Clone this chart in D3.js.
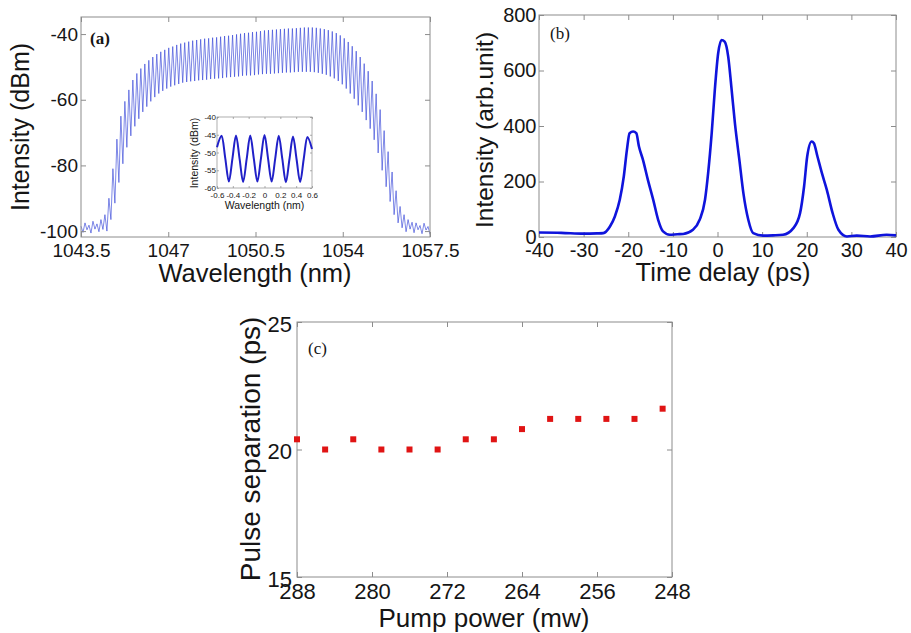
<!DOCTYPE html>
<html>
<head>
<meta charset="utf-8">
<script src="https://cdnjs.cloudflare.com/ajax/libs/d3/7.8.5/d3.min.js"></script>
<style>
    body { margin: 0; background: #fff; }
    svg text { font-family: "Liberation Sans", Arial, sans-serif; }
</style>
</head>
<body>
<div id="my_dataviz"></div>
<script>

// --------------------------------------------------------
// (1) Data
// --------------------------------------------------------

// (a) spectrum: fringe peaks ...
var peakNm = [
    1043.50, 1043.66, 1043.82, 1043.98, 1044.14, 1044.30, 1044.46, 1044.62, 1044.78, 1044.94,
    1045.10, 1045.26, 1045.42, 1045.58, 1045.74, 1045.90, 1046.06, 1046.22, 1046.38, 1046.54,
    1046.70, 1046.86, 1047.02, 1047.18, 1047.34, 1047.50, 1047.66, 1047.82, 1047.98, 1048.14,
    1048.30, 1048.46, 1048.62, 1048.78, 1048.94, 1049.10, 1049.26, 1049.42, 1049.58, 1049.74,
    1049.90, 1050.06, 1050.22, 1050.38, 1050.54, 1050.70, 1050.86, 1051.02, 1051.18, 1051.34,
    1051.50, 1051.66, 1051.82, 1051.98, 1052.14, 1052.30, 1052.46, 1052.62, 1052.78, 1052.94,
    1053.10, 1053.26, 1053.42, 1053.58, 1053.74, 1053.90, 1054.06, 1054.22, 1054.38, 1054.54,
    1054.70, 1054.86, 1055.02, 1055.18, 1055.34, 1055.50, 1055.66, 1055.82, 1055.98, 1056.14,
    1056.30, 1056.46, 1056.62, 1056.78, 1056.94, 1057.10, 1057.26, 1057.42
]
var peakDbm = [
    -98.5, -97.5, -98.2, -97, -97.8, -96.5, -95, -90, -81, -72,
    -65, -60.5, -57, -54, -52, -50.5, -49.1, -48, -47, -46.1,
    -45.4, -44.8, -44.2, -43.8, -43.3, -42.9, -42.6, -42.3, -42, -41.8,
    -41.6, -41.4, -41.3, -41.1, -41, -40.8, -40.6, -40.5, -40.3, -40.1,
    -39.9, -39.7, -39.6, -39.4, -39.3, -39.1, -38.9, -38.8, -38.7, -38.6,
    -38.5, -38.4, -38.3, -38.3, -38.2, -38.1, -38, -38, -38, -38.1,
    -38.3, -38.5, -38.8, -39.2, -39.7, -40.4, -41.3, -42.4, -43.7, -45.2,
    -47, -49, -51.3, -54.3, -58.2, -63, -69.4, -75.8, -82, -87.7,
    -92.5, -95, -96.5, -97.3, -97.5, -98.3, -97.6, -98.6
]

// ... and dips in between
var dipNm = [
    1043.58, 1043.74, 1043.90, 1044.06, 1044.22, 1044.38, 1044.54, 1044.70, 1044.86, 1045.02,
    1045.18, 1045.34, 1045.50, 1045.66, 1045.82, 1045.98, 1046.14, 1046.30, 1046.46, 1046.62,
    1046.78, 1046.94, 1047.10, 1047.26, 1047.42, 1047.58, 1047.74, 1047.90, 1048.06, 1048.22,
    1048.38, 1048.54, 1048.70, 1048.86, 1049.02, 1049.18, 1049.34, 1049.50, 1049.66, 1049.82,
    1049.98, 1050.14, 1050.30, 1050.46, 1050.62, 1050.78, 1050.94, 1051.10, 1051.26, 1051.42,
    1051.58, 1051.74, 1051.90, 1052.06, 1052.22, 1052.38, 1052.54, 1052.70, 1052.86, 1053.02,
    1053.18, 1053.34, 1053.50, 1053.66, 1053.82, 1053.98, 1054.14, 1054.30, 1054.46, 1054.62,
    1054.78, 1054.94, 1055.10, 1055.26, 1055.42, 1055.58, 1055.74, 1055.90, 1056.06, 1056.22,
    1056.38, 1056.54, 1056.70, 1056.86, 1057.02, 1057.18, 1057.34, 1057.50
]
var dipDbm = [
    -100.4, -99.6, -100.6, -99.4, -100.2, -99.5, -100, -96.5, -91.5, -85.2,
    -79.5, -74.5, -71, -68.1, -65.8, -63.7, -62.1, -60.5, -59.2, -58.1,
    -57.3, -56.6, -56, -55.6, -55.2, -54.8, -54.6, -54.4, -54.3, -54.1,
    -54, -53.9, -53.7, -53.6, -53.5, -53.4, -53.2, -53.1, -53, -52.9,
    -52.7, -52.6, -52.6, -52.5, -52.3, -52.2, -52.1, -52.1, -52, -51.9,
    -51.8, -51.7, -51.7, -51.6, -51.5, -51.5, -51.5, -51.5, -51.6, -51.8,
    -52.1, -52.4, -52.9, -53.5, -54.3, -55.3, -56.6, -58.1, -59.7, -61.7,
    -63.7, -66.2, -68.8, -72.2, -76.2, -81.5, -86.5, -91, -95, -97.5,
    -99, -100.2, -99.4, -100.5, -99.6, -100.8, -99.7, -101
]

// (a) inset: zoom on the fringes
var insetNm = [-0.6, -0.54, -0.495, -0.45, -0.405, -0.36, -0.315, -0.27, -0.225, -0.18, -0.135, -0.09, -0.045,
               0, 0.045, 0.09, 0.135, 0.18, 0.225, 0.27, 0.315, 0.36, 0.405, 0.45, 0.495, 0.54, 0.6]
var insetDbm = [-48.5, -45.3, -51.7, -58.2, -51.7, -45.2, -51.7, -58.3, -51.8, -45.2, -51.7, -58.2, -51.7,
                -45.1, -51.7, -58.2, -51.8, -45.3, -51.8, -58.4, -51.9, -45.5, -51.9, -58.3, -51.9, -45.6, -49]

// (b) autocorrelation trace
var delayPs = [-40, -35, -30, -27, -25.6, -24.1, -23, -21.9, -21, -20.3, -19.7, -18.9, -18.2, -17.6, -16.7,
               -15.6, -14.4, -13.3, -12.2, -10.7, -9, -7.7, -5.5, -4, -2.8, -2.1, -1.3, -0.6, 0.15, 0.9,
               1.6, 2.4, 3.1, 3.9, 4.9, 5.8, 6.9, 8, 10.2, 12.5, 14.7, 17, 18.5, 19.4, 20.1,
               21.1, 21.6, 22.4, 23.4, 24.5, 25.8, 27.1, 29, 31.2, 34.2, 37.9, 40]
var acIntensity = [16, 15, 12, 13, 14, 38, 74, 134, 218, 314, 374, 380, 374, 326, 278,
                   206, 134, 62, 20, 8, 10, 11, 26, 62, 134, 230, 374, 530, 662, 710,
                   704, 650, 542, 410, 278, 158, 62, 14, 5, 6, 8, 32, 86, 182, 290,
                   344, 338, 290, 230, 170, 86, 26, 2, 5, 2, 8, 6]

// (c) pulse separation vs pump power
var pumpMw = [288, 285, 282, 279, 276, 273, 270, 267, 264, 261, 258, 255, 252, 249]
var separationPs = [20.4, 20.0, 20.4, 20.0, 20.0, 20.0, 20.4, 20.4, 20.8, 21.2, 21.2, 21.2, 21.2, 21.6]

// tick values
var specTicksX = [1043.5, 1047, 1050.5, 1054, 1057.5]
var specTicksY = [-100, -80, -60, -40]
var insetTicksX = [-0.6, -0.4, -0.2, 0, 0.2, 0.4, 0.6]
var insetTicksY = [-60, -55, -50, -45, -40]
var delayTicksX = [-40, -30, -20, -10, 0, 10, 20, 30, 40]
var acTicksY = [0, 200, 400, 600, 800]
var pumpTicksX = [288, 280, 272, 264, 256, 248]
var sepTicksY = [15, 20, 25]


// --------------------------------------------------------
// (2) Layout
// --------------------------------------------------------

var svg_width = 911
var svg_height = 633

var frameColor = "#8c8c8c"
var textColor = "#151515"

const svg = d3.select("#my_dataviz")
    .append("svg")
        .attr("width", svg_width)
        .attr("height", svg_height)

// matlab style box: frame + inward ticks on all four sides
function drawAxes(g, x, y, o) {
    var x0 = x.range()[0], x1 = x.range()[1]
    var y0 = y.range()[0], y1 = y.range()[1]

    g.append("rect")
        .attr("x", x0)
        .attr("y", y1)
        .attr("width", x1 - x0)
        .attr("height", y0 - y1)
        .attr("fill", o.fill || "none")
        .attr("stroke", frameColor)
        .attr("stroke-width", o.width || 1)

    const bottom = g.append("g")
        .attr("transform", `translate(0, ${y0})`)
        .call(d3.axisBottom(x).tickValues(o.xTicks).tickFormat(d => String(d))
            .tickSize(-o.tick).tickPadding(o.xPad))
    const top = g.append("g")
        .attr("transform", `translate(0, ${y1})`)
        .call(d3.axisTop(x).tickValues(o.xTicks).tickFormat("").tickSize(-o.tick))
    const left = g.append("g")
        .attr("transform", `translate(${x0}, 0)`)
        .call(d3.axisLeft(y).tickValues(o.yTicks).tickFormat(d => String(d))
            .tickSize(-o.tick).tickPadding(o.yPad))
    const right = g.append("g")
        .attr("transform", `translate(${x1}, 0)`)
        .call(d3.axisRight(y).tickValues(o.yTicks).tickFormat("").tickSize(-o.tick))

    ;[bottom, top, left, right].forEach(a => {
        a.select(".domain").remove()
        a.selectAll("line").attr("stroke", frameColor).attr("stroke-width", o.width || 1)
        a.attr("font-size", o.font)
        a.selectAll("text").attr("fill", textColor)
    })
    if (o.yDy) left.selectAll("text").attr("dy", o.yDy)
}

function label(g, txt, x, y, size, rotate) {
    const t = g.append("text")
        .attr("font-size", size)
        .attr("fill", textColor)
        .attr("text-anchor", "middle")
        .text(txt)
    if (rotate) t.attr("transform", `translate(${x}, ${y}) rotate(-90)`)
    else t.attr("x", x).attr("y", y)
    return t
}

function panelTag(g, txt, x, y, bold) {
    g.append("text")
        .attr("x", x)
        .attr("y", y)
        .attr("font-size", 17)
        .attr("font-weight", bold ? "bold" : "normal")
        .attr("fill", textColor)
        .style("font-family", '"Liberation Serif", "Times New Roman", serif')
        .text(txt)
}


// --------------------------------------------------------
// (3) Panel (a): spectrum with inset
// --------------------------------------------------------

const xA = d3.scaleLinear().domain([1043.5, 1057.5]).range([81, 430])
const yA = d3.scaleLinear().domain([-101.8, -34.8]).range([237, 17])

const gA = svg.append("g")

// peak, dip, peak, dip ...
var specPoints = d3.merge(peakNm.map((d, i) => [[d, peakDbm[i]], [dipNm[i], dipDbm[i]]]))

gA.append("path")
    .datum(specPoints)
    .attr("d", d3.line().x(d => xA(d[0])).y(d => yA(d[1])))
    .attr("fill", "none")
    .attr("stroke", "#3444d8")
    .attr("stroke-width", 0.8)
    .attr("stroke-opacity", 0.8)

drawAxes(gA, xA, yA, { xTicks: specTicksX, yTicks: specTicksY, tick: 5, xPad: 6.5, yPad: 3, font: 19 })

label(gA, "Wavelength (nm)", 255, 282, 25.5)
label(gA, "Intensity (dBm)", 29, 127, 25, true)
panelTag(gA, "(a)", 90, 44, true)

// inset
const xI = d3.scaleLinear().domain([-0.6, 0.6]).range([217, 312])
const yI = d3.scaleLinear().domain([-60, -40]).range([188, 117])

const gI = svg.append("g")

drawAxes(gI, xI, yI, { xTicks: insetTicksX, yTicks: insetTicksY, tick: 2, xPad: 4, yPad: 1, font: 8,
                       fill: "#fff", width: 0.7 })

gI.append("path")
    .datum(insetNm.map((d, i) => [d, insetDbm[i]]))
    .attr("d", d3.line().x(d => xI(d[0])).y(d => yI(d[1])).curve(d3.curveMonotoneX))
    .attr("fill", "none")
    .attr("stroke", "#2020c8")
    .attr("stroke-width", 2)

label(gI, "Wavelength (nm)", 264.5, 209, 10.5)
label(gI, "Intensity (dBm)", 198, 153, 10.5, true)


// --------------------------------------------------------
// (4) Panel (b): autocorrelation
// --------------------------------------------------------

const xB = d3.scaleLinear().domain([-40, 40]).range([539, 896])
const yB = d3.scaleLinear().domain([0, 800]).range([237, 15])

const gB = svg.append("g")

drawAxes(gB, xB, yB, { xTicks: delayTicksX, yTicks: acTicksY, tick: 5, xPad: 5.5, yPad: 2.5, font: 20 })

gB.append("path")
    .datum(delayPs.map((d, i) => [d, acIntensity[i]]))
    .attr("d", d3.line().x(d => xB(d[0])).y(d => yB(d[1])).curve(d3.curveMonotoneX))
    .attr("fill", "none")
    .attr("stroke", "#0f14dc")
    .attr("stroke-width", 2.6)
    .attr("stroke-linejoin", "round")

label(gB, "Time delay (ps)", 723, 281, 25.5)
label(gB, "Intensity (arb.unit)", 493, 130, 24.5, true)
panelTag(gB, "(b)", 550, 39, false)


// --------------------------------------------------------
// (5) Panel (c): pulse separation
// --------------------------------------------------------

const xC = d3.scaleLinear().domain([288, 248]).range([297, 672])
const yC = d3.scaleLinear().domain([15, 25]).range([577, 322])

const gC = svg.append("g")

drawAxes(gC, xC, yC, { xTicks: pumpTicksX, yTicks: sepTicksY, tick: 5, xPad: 6, yPad: 5, font: 22,
                       yDy: "0.42em" })

gC.selectAll("rect.pt")
    .data(pumpMw)
    .join("rect")
        .attr("class", "pt")
        .attr("x", (d, i) => xC(d) - 3)
        .attr("y", (d, i) => yC(separationPs[i]) - 3)
        .attr("width", 6)
        .attr("height", 6)
        .attr("fill", "#e01414")

label(gC, "Pump power (mw)", 484, 627, 26)
label(gC, "Pulse separation (ps)", 260, 449, 28, true)
panelTag(gC, "(c)", 308, 354, false)

</script>
</body>
</html>
